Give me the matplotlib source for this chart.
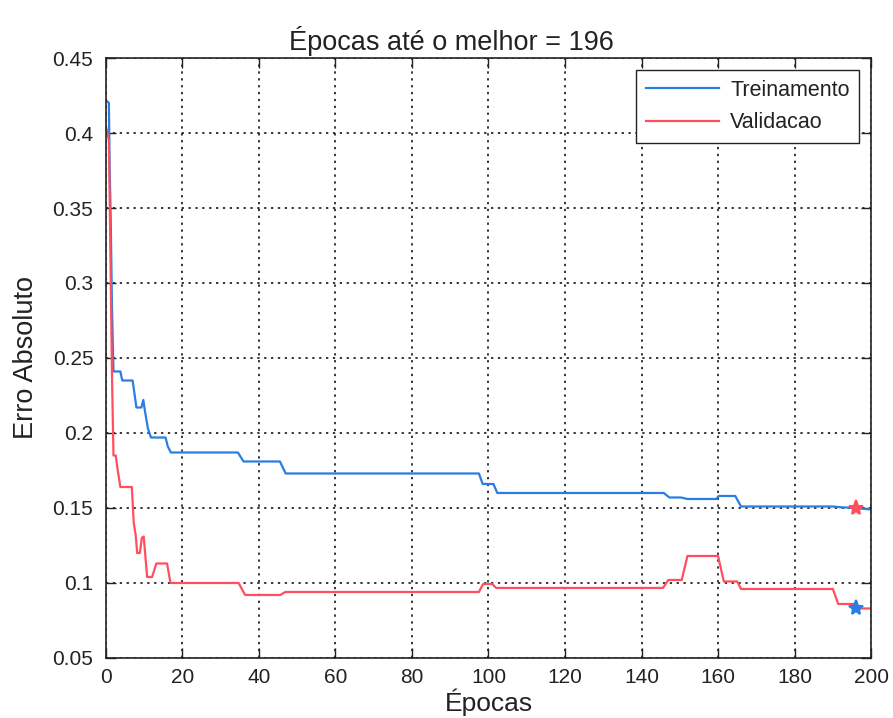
import matplotlib
matplotlib.use('Agg')
import matplotlib.pyplot as plt

plt.rcParams['font.family'] = ['Liberation Sans', 'DejaVu Sans']

# curvas de erro (épocas, valor) lidas ponto a ponto
treino_ep = [0, 0.8, 1.0, 1.3, 1.6, 2.0, 3.8, 4.3, 7.0, 8.0, 9.3, 9.8, 10.2, 11.0, 11.8,
             15.6, 16.2, 17.0, 34.5, 36.0, 45.5, 47.0, 97.5, 98.5, 101.3, 102.3, 145.8,
             147.3, 150.3, 152.0, 159.5, 160.2, 164.5, 166.0, 190.0, 192.0, 196.0, 200.0]
treino_val = [0.422, 0.420, 0.377, 0.340, 0.285, 0.241, 0.241, 0.235, 0.235, 0.217, 0.217,
              0.222, 0.215, 0.203, 0.197, 0.197, 0.191, 0.187, 0.187, 0.181, 0.181, 0.173,
              0.173, 0.166, 0.166, 0.160, 0.160, 0.157, 0.157, 0.156, 0.156, 0.158, 0.158,
              0.151, 0.151, 0.1505, 0.150, 0.149]

valid_ep = [0, 0.8, 1.3, 1.6, 2.0, 2.6, 3.0, 3.8, 6.8, 7.3, 7.8, 8.2, 8.9, 9.4, 9.9, 10.8,
            12.1, 13.2, 16.0, 16.9, 34.7, 36.4, 45.6, 46.9, 97.5, 98.6, 101.0, 102.0, 145.6,
            147.0, 150.5, 152.0, 160.0, 161.5, 165.0, 166.0, 190.0, 191.4, 195.5, 196.0, 200.0]
valid_val = [0.405, 0.395, 0.300, 0.240, 0.185, 0.185, 0.177, 0.164, 0.164, 0.140, 0.132,
             0.120, 0.120, 0.130, 0.131, 0.104, 0.104, 0.113, 0.113, 0.100, 0.100, 0.092,
             0.092, 0.094, 0.094, 0.0993, 0.0993, 0.0967, 0.0967, 0.102, 0.102, 0.118, 0.118,
             0.101, 0.101, 0.096, 0.096, 0.086, 0.086, 0.083, 0.083]

melhor_ep = 196
melhor_treino = 0.150
melhor_valid = 0.083

fig = plt.figure(figsize=(8.93, 7.18), dpi=100)
ax = fig.add_axes([0.1185, 0.0836, 0.8570, 0.8356])

azul = '#2a7de1'
vermelho = '#ff4f5e'
texto = '#222222'
ax.plot(treino_ep, treino_val, color=azul, lw=1.6, label='Treinamento')
ax.plot(valid_ep, valid_val, color=vermelho, lw=1.6, label='Validacao')
ax.plot([melhor_ep], [melhor_treino], marker='*', color=vermelho, ms=11, mew=1.5, ls='none')
ax.plot([melhor_ep], [melhor_valid], marker='*', color=azul, ms=11, mew=1.5, ls='none')

ax.set_xlim(0, 200)
ax.set_ylim(0.05, 0.45)
ax.set_xticks(range(0, 201, 20))
ax.set_yticks([0.05, 0.1, 0.15, 0.2, 0.25, 0.3, 0.35, 0.4, 0.45])
ax.set_yticklabels(['0.05', '0.1', '0.15', '0.2', '0.25', '0.3', '0.35', '0.4', '0.45'])
ax.grid(True, color='black', ls=(0, (1.5, 3)), lw=1.1)
ax.tick_params(direction='in', length=7, width=1, top=True, right=True,
               labelsize=15, colors=texto)
ax.tick_params(axis='y', pad=9)
ax.tick_params(axis='x', pad=7)
for s in ax.spines.values():
    s.set_color(texto)
    s.set_linewidth(1.2)

ax.set_title('Épocas até o melhor = 196', fontsize=19.5, color=texto, x=0.451, pad=6)
ax.set_xlabel('Épocas', fontsize=19, color=texto, labelpad=1)
ax.set_ylabel('Erro Absoluto', fontsize=19.5, color=texto, labelpad=10)

leg = ax.legend(loc='upper right', fontsize=15.5, handlelength=3.4, frameon=True,
                fancybox=False, borderaxespad=0.55, framealpha=1, labelspacing=0.55,
                handletextpad=0.5, borderpad=0.45)
leg.get_frame().set_edgecolor(texto)
leg.get_frame().set_linewidth(1.0)
for t in leg.get_texts():
    t.set_color(texto)

fig.savefig('out.png', dpi=100)
